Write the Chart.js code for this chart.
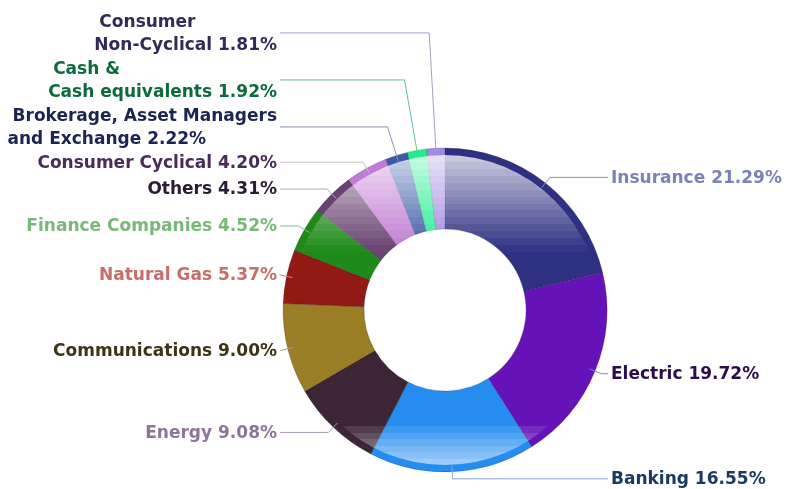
<!DOCTYPE html>
<html><head><meta charset="utf-8">
<script src="https://cdn.jsdelivr.net/npm/chart.js@4/dist/chart.umd.min.js"></script>
<style>html,body{margin:0;padding:0;background:#fff;overflow:hidden}</style>
</head><body><canvas id="c" width="792" height="489"></canvas>
<script>
const categories = ['Insurance','Electric','Banking','Energy','Communications','Natural Gas','Finance Companies','Others','Consumer Cyclical','Brokerage, Asset Managers\nand Exchange','Cash &\nCash equivalents','Consumer\nNon-Cyclical'];
const shares = [21.29,19.72,16.55,9.08,9.00,5.37,4.52,4.31,4.20,2.22,1.92,1.81];
const sliceColors = ['#2e3182','#6513b9','#258df0','#3c2636','#9a7e26','#921a14','#1e8a1a','#684272','#c07bd4','#3b5ba8','#22ee90','#a08ae2'];
const labelColors = ['#7b81b9','#2c0c4e','#1a3a62','#8c7599','#3c3414','#c86e68','#78b878','#2a1c34','#4a2c58','#1c2452','#0d6a3c','#35295a'];
const lineColors = ['#8a8fc0','#9a7cc0','#8aa8d0','#a898b0','#a89c88','#c08880','#80c080','#b0a8b8','#c8c0d0','#8890b0','#60c090','#a0a0c8'];

const FONT = 'bold 17px "DejaVu Sans"';
const LH = 23.5;

const glossPlugin = {
  id: 'gloss',
  afterDatasetsDraw(chart) {
    const el = chart.getDatasetMeta(0).data[0];
    const p = el.getProps(['x','y','outerRadius','innerRadius'], true);
    const cx = p.x, cy = p.y, R = p.outerRadius, r = p.innerRadius;
    const ctx = chart.ctx;
    const rimR = R - 7;
    ctx.save();
    ctx.beginPath();
    ctx.arc(cx, cy, rimR, 0, Math.PI * 2);
    ctx.arc(cx, cy, r, 0, Math.PI * 2, true);
    ctx.clip();
    const top = cy - rimR, bot = cy - 58;
    const steps = 14;
    for (let i = 0; i < steps; i++) {
      const y0 = Math.round(top + (bot - top) * i / steps);
      const y1 = Math.round(top + (bot - top) * (i + 1) / steps);
      const a = 0.76 * (1 - (i + 0.5) / steps);
      ctx.fillStyle = 'rgba(255,255,255,' + a.toFixed(3) + ')';
      ctx.fillRect(cx - R, y0, 2 * R, y1 - y0);
    }
    const bt = cy + 116, bb = cy + rimR;
    const bsteps = 6;
    for (let i = 0; i < bsteps; i++) {
      const y0 = Math.round(bt + (bb - bt) * i / bsteps);
      const y1 = Math.round(bt + (bb - bt) * (i + 1) / bsteps);
      const a = 0.06 + 0.54 * (i + 0.5) / bsteps;
      ctx.fillStyle = 'rgba(255,255,255,' + a.toFixed(3) + ')';
      ctx.fillRect(cx - R, y0, 2 * R, y1 - y0);
    }
    ctx.restore();
  }
};

const labelPlugin = {
  id: 'outLabels',
  afterDraw(chart) {
    const meta = chart.getDatasetMeta(0);
    const ctx = chart.ctx;
    ctx.save();
    ctx.font = FONT;
    const items = meta.data.map((el, i) => {
      const p = el.getProps(['x','y','startAngle','endAngle','outerRadius'], true);
      const mid = (p.startAngle + p.endAngle) / 2;
      const dx = Math.cos(mid), dy = Math.sin(mid);
      const lines = (categories[i] + ' ' + shares[i].toFixed(2) + '%').split('\n');
      return {
        i, cx: p.x, cy: p.y, R: p.outerRadius, dx, dy, lines,
        right: dx >= 0,
        ex: p.x + dx * (p.outerRadius - 6), ey: p.y + dy * (p.outerRadius - 6),
        ly: p.y + dy * (p.outerRadius + 7),
        h: lines.length * LH
      };
    });
    const left = items.filter(d => !d.right).sort((a, b) => b.ly - a.ly);
    let prev = null;
    left.forEach(d => {
      d.y = prev ? Math.min(d.ly, prev.y - (prev.h / 2 + d.h / 2)) : d.ly;
      prev = d;
    });
    const right = items.filter(d => d.right).sort((a, b) => a.ly - b.ly);
    prev = null;
    right.forEach(d => {
      d.y = prev ? Math.max(d.ly, prev.y + (prev.h / 2 + d.h / 2)) : d.ly;
      prev = d;
    });
    items.forEach(d => {
      const t = Math.abs(d.dy) > 1e-3 ? (d.y - d.cy) / d.dy : d.R + 7;
      const bx = d.cx + d.dx * t;
      const lineEnd = d.right ? d.cx + d.R + 1 : d.cx - d.R - 3;
      ctx.strokeStyle = lineColors[d.i];
      ctx.lineWidth = 1;
      ctx.beginPath();
      ctx.moveTo(d.ex, d.ey);
      ctx.lineTo(bx, d.y);
      ctx.lineTo(lineEnd, d.y);
      ctx.stroke();
      ctx.fillStyle = labelColors[d.i];
      ctx.textBaseline = 'middle';
      ctx.textAlign = 'left';
      const indent = d.lines.length > 1 ? 5 : 0;
      const widths = d.lines.map((s, k) => ctx.measureText(s).width + (k === 0 ? indent : 0));
      const blockW = Math.max(...widths);
      const tx = d.right ? d.cx + d.R + 4 : d.cx - d.R - 6 - blockW;
      d.lines.forEach((s, k) => {
        const yy = d.y - d.h / 2 + LH * (k + 0.5) + 1;
        ctx.fillText(s, tx + (k === 0 ? indent : 0), yy);
      });
    });
    ctx.restore();
  }
};

new Chart(document.getElementById('c'), {
  type: 'doughnut',
  data: {
    labels: categories,
    datasets: [{
      data: shares,
      backgroundColor: sliceColors,
      borderColor: 'rgba(0,0,0,0.18)',
      borderWidth: 1,
      hoverOffset: 0
    }]
  },
  options: {
    responsive: false,
    animation: false,
    radius: 162,
    cutout: '50%',
    layout: { padding: { left: 283, right: 185, top: 148, bottom: 17 } },
    plugins: { legend: { display: false }, tooltip: { enabled: false } },
    events: []
  },
  plugins: [glossPlugin, labelPlugin]
});
</script>
</body></html>
